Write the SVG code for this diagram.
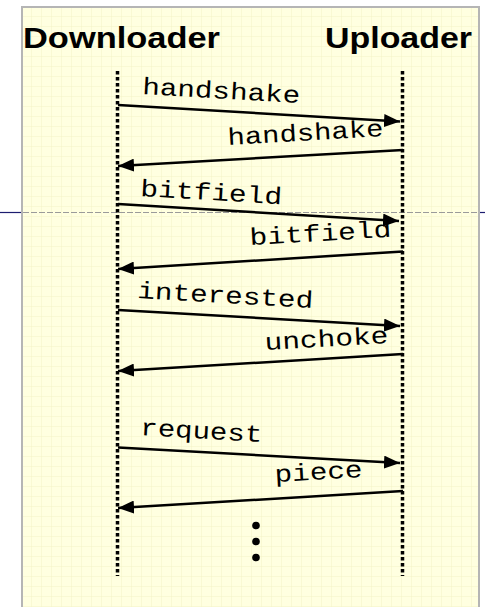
<svg xmlns="http://www.w3.org/2000/svg" width="485" height="607" viewBox="0 0 485 607">
  <defs>
    <pattern id="grid" x="22" y="7" width="10" height="10" patternUnits="userSpaceOnUse">
      <rect width="10" height="10" fill="#ffffe0"/>
      <path d="M10 0V10M0 10H10" fill="none" stroke="#f3f3c6" stroke-width="1"/>
    </pattern>
    <marker id="ah" viewBox="0 0 16 13" refX="16" refY="6.5" markerWidth="16" markerHeight="13" markerUnits="userSpaceOnUse" orient="auto">
      <path d="M0 0L16 6.5L0 13Z" fill="#000"/>
    </marker>
  </defs>
  <style>
    .hdr { font-family: "Liberation Sans", Arial, sans-serif; font-weight: bold; font-size: 30px; fill: #000; }
    .msg { font-family: "Liberation Mono", "Courier New", monospace; font-size: 24px; fill: #000; }
    .life { stroke: #000; stroke-width: 3.5; stroke-dasharray: 3.5 2.5; fill: none; }
    .arr { stroke: #000; stroke-width: 2.5; fill: none; marker-end: url(#ah); }
  </style>
  <rect x="0" y="0" width="485" height="607" fill="#ffffff"/>
  <rect x="22" y="7" width="457" height="620" fill="url(#grid)" stroke="#b5b5b5" stroke-width="2"/>
  <g id="slide-rule">
    <line x1="0" y1="212.5" x2="21" y2="212.5" stroke="#1c1c70" stroke-width="1.2"/>
    <line x1="480" y1="212.5" x2="485" y2="212.5" stroke="#1c1c70" stroke-width="1.2"/>
    <line x1="23" y1="212.5" x2="478" y2="212.5" stroke="#9a9a9a" stroke-width="1" stroke-dasharray="6 2"/>
  </g>
  <g id="downloader">
    <text class="hdr" x="23" y="48" textLength="197" lengthAdjust="spacingAndGlyphs">Downloader</text>
    <line class="life" x1="117.5" y1="71" x2="117.5" y2="576"/>
  </g>
  <g id="uploader">
    <text class="hdr" x="325" y="48" textLength="147" lengthAdjust="spacingAndGlyphs">Uploader</text>
    <line class="life" x1="402.5" y1="71" x2="402.5" y2="576"/>
  </g>
  <g id="dots">
    <circle cx="256" cy="525.5" r="3.8"/>
    <circle cx="256" cy="541.5" r="3.8"/>
    <circle cx="256" cy="557.5" r="3.8"/>
  </g>
  <g id="connectors">
    <line class="arr" x1="118" y1="105" x2="400" y2="121.5"/>
    <text class="msg" x="142" y="94" transform="rotate(3.3 142 94)" textLength="158" lengthAdjust="spacingAndGlyphs">handshake</text>
    <line class="arr" x1="403" y1="150" x2="118" y2="166"/>
    <text class="msg" x="228" y="145" transform="rotate(-3.3 228 145)" textLength="156" lengthAdjust="spacingAndGlyphs">handshake</text>

    <line class="arr" x1="118" y1="204" x2="399" y2="221"/>
    <text class="msg" x="140" y="196" transform="rotate(3.3 140 196)" textLength="142" lengthAdjust="spacingAndGlyphs">bitfield</text>
    <line class="arr" x1="403" y1="251.5" x2="118" y2="269"/>
    <text class="msg" x="250" y="245" transform="rotate(-3.3 250 245)" textLength="142" lengthAdjust="spacingAndGlyphs">bitfield</text>

    <line class="arr" x1="118" y1="310" x2="400" y2="326"/>
    <text class="msg" x="137" y="298" transform="rotate(3.3 137 298)" textLength="176" lengthAdjust="spacingAndGlyphs">interested</text>
    <line class="arr" x1="403" y1="354" x2="118" y2="371"/>
    <text class="msg" x="265" y="350" transform="rotate(-3.3 265 350)" textLength="124" lengthAdjust="spacingAndGlyphs">unchoke</text>

    <line class="arr" x1="118" y1="447.5" x2="400" y2="463"/>
    <text class="msg" x="140" y="435" transform="rotate(3.3 140 435)" textLength="122" lengthAdjust="spacingAndGlyphs">request</text>
    <line class="arr" x1="403" y1="491" x2="118" y2="508"/>
    <text class="msg" x="275" y="482" transform="rotate(-3.3 275 482)" textLength="88" lengthAdjust="spacingAndGlyphs">piece</text>
  </g>
</svg>
